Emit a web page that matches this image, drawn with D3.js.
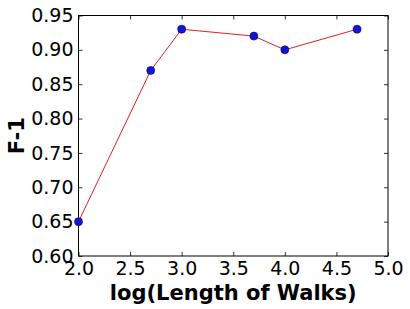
<!DOCTYPE html>
<html>
<head>
<meta charset="utf-8">
<script src="https://cdn.jsdelivr.net/npm/d3@7"></script>
<style>
body { margin: 0; background: #fff; }
text { font-family: "DejaVu Sans", sans-serif; }
</style>
</head>
<body>
<script>
var w = 410;
var h = 309;

// data
var logLength = [2.0, 2.7, 3.0, 3.7, 4.0, 4.7];
var f1 = [0.65, 0.87, 0.93, 0.92, 0.90, 0.93];
var xTicks = [2.0, 2.5, 3.0, 3.5, 4.0, 4.5, 5.0];
var yTicks = [0.60, 0.65, 0.70, 0.75, 0.80, 0.85, 0.90, 0.95];

var m = { left: 78.5, right: 22, top: 15.5, bottom: 53 };

var x = d3.scaleLinear().domain([2.0, 5.0]).range([m.left, w - m.right]);
var y = d3.scaleLinear().domain([0.60, 0.95]).range([h - m.bottom, m.top]);

var svg = d3.select("body")
    .append("svg")
    .attr("width", w)
    .attr("height", h);

// axes, ticks inward on all sides
function styleAxis(g) {
    g.select(".domain").remove();
    g.selectAll(".tick line").attr("stroke", "#000").attr("stroke-width", 0.8);
}
svg.append("g")
    .attr("transform", "translate(0," + y.range()[0] + ")")
    .call(d3.axisBottom(x).tickValues(xTicks).tickFormat(d3.format(".1f")).tickSizeInner(-4).tickPadding(6))
    .call(styleAxis)
    .selectAll("text").attr("font-size", 19).attr("fill", "#000");
svg.append("g")
    .attr("transform", "translate(0," + y.range()[1] + ")")
    .call(d3.axisTop(x).tickValues(xTicks).tickFormat("").tickSizeInner(-4))
    .call(styleAxis);
svg.append("g")
    .attr("transform", "translate(" + x.range()[0] + ",0)")
    .call(d3.axisLeft(y).tickValues(yTicks).tickFormat(d3.format(".2f")).tickSizeInner(-4).tickPadding(5))
    .call(styleAxis)
    .selectAll("text").attr("font-size", 19).attr("fill", "#000");
svg.append("g")
    .attr("transform", "translate(" + x.range()[1] + ",0)")
    .call(d3.axisRight(y).tickValues(yTicks).tickFormat("").tickSizeInner(-4))
    .call(styleAxis);

// frame
svg.append("rect")
    .attr("x", x.range()[0])
    .attr("y", y.range()[1])
    .attr("width", x.range()[1] - x.range()[0])
    .attr("height", y.range()[0] - y.range()[1])
    .attr("fill", "none")
    .attr("stroke", "#000")
    .attr("stroke-width", 1);

var pts = logLength.map(function (d, i) { return [d, f1[i]]; });

svg.append("path")
    .datum(pts)
    .attr("d", d3.line().x(function (d) { return x(d[0]); }).y(function (d) { return y(d[1]); }))
    .attr("fill", "none")
    .attr("stroke", "#e02020")
    .attr("stroke-width", 1);

svg.selectAll("circle")
    .data(pts)
    .enter()
    .append("circle")
    .attr("cx", function (d) { return x(d[0]); })
    .attr("cy", function (d) { return y(d[1]); })
    .attr("r", 4)
    .attr("fill", "#1515d5")
    .attr("stroke", "#000060")
    .attr("stroke-width", 0.6);

// labels
svg.append("text")
    .attr("x", (x.range()[0] + x.range()[1]) / 2)
    .attr("y", 300)
    .attr("text-anchor", "middle")
    .attr("font-size", 21)
    .attr("font-weight", "bold")
    .text("log(Length of Walks)");
svg.append("text")
    .attr("transform", "translate(24," + ((y.range()[0] + y.range()[1]) / 2) + ") rotate(-90)")
    .attr("text-anchor", "middle")
    .attr("font-size", 21)
    .attr("font-weight", "bold")
    .text("F-1");
</script>
</body>
</html>
